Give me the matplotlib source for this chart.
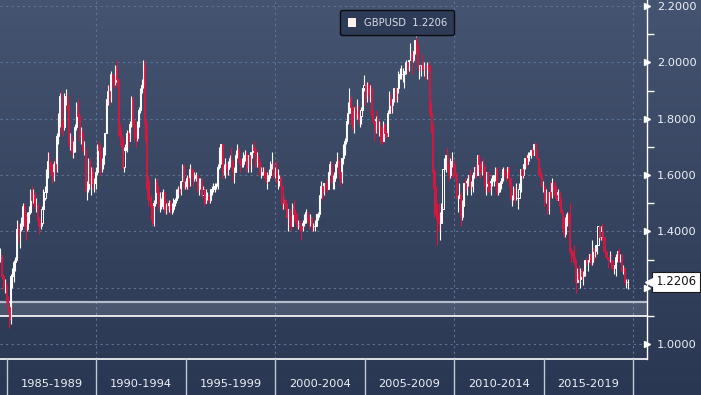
import numpy as np
import matplotlib
matplotlib.use("Agg")
import matplotlib.pyplot as plt
import matplotlib.transforms as mtransforms
from matplotlib.patches import Patch

# monthly GBPUSD candles, Aug 1984 .. Sep 2019 (open = previous close)
start_year, start_month = 1984, 8
first_open = 1.30

close = [
    1.31, 1.24, 1.21, 1.21, 1.16,                                        # 1984
    1.13, 1.09, 1.24, 1.24, 1.29, 1.30, 1.41, 1.39, 1.41, 1.43, 1.49, 1.44,  # 1985
    1.41, 1.45, 1.47, 1.54, 1.51, 1.53, 1.49, 1.49, 1.44, 1.42, 1.43, 1.48,  # 1986
    1.52, 1.54, 1.61, 1.65, 1.64, 1.61, 1.59, 1.64, 1.62, 1.74, 1.80, 1.88,  # 1987
    1.78, 1.77, 1.88, 1.88, 1.84, 1.71, 1.72, 1.68, 1.69, 1.77, 1.85, 1.81,  # 1988
    1.74, 1.75, 1.69, 1.69, 1.55, 1.55, 1.65, 1.57, 1.61, 1.57, 1.57, 1.61,  # 1989
    1.70, 1.69, 1.64, 1.64, 1.68, 1.75, 1.87, 1.90, 1.87, 1.96, 1.94, 1.93,  # 1990
    1.98, 1.94, 1.76, 1.74, 1.71, 1.63, 1.69, 1.69, 1.75, 1.72, 1.78, 1.87,  # 1991
    1.78, 1.76, 1.73, 1.78, 1.83, 1.90, 1.92, 1.99, 1.78, 1.59, 1.52, 1.51,  # 1992
    1.49, 1.43, 1.50, 1.57, 1.54, 1.49, 1.49, 1.49, 1.54, 1.48, 1.49, 1.48,  # 1993
    1.50, 1.48, 1.48, 1.51, 1.51, 1.54, 1.55, 1.54, 1.58, 1.63, 1.56, 1.56,  # 1994
    1.59, 1.58, 1.62, 1.61, 1.59, 1.59, 1.60, 1.55, 1.58, 1.58, 1.53, 1.55,  # 1995
    1.50, 1.53, 1.53, 1.51, 1.55, 1.55, 1.56, 1.56, 1.56, 1.63, 1.68, 1.71,  # 1996
    1.61, 1.63, 1.64, 1.62, 1.64, 1.66, 1.64, 1.61, 1.61, 1.67, 1.69, 1.65,  # 1997
    1.64, 1.64, 1.67, 1.67, 1.63, 1.67, 1.64, 1.68, 1.70, 1.69, 1.65, 1.66,  # 1998
    1.64, 1.60, 1.61, 1.61, 1.60, 1.58, 1.60, 1.60, 1.64, 1.64, 1.60, 1.61,  # 1999
    1.58, 1.58, 1.59, 1.56, 1.50, 1.51, 1.50, 1.45, 1.48, 1.45, 1.42, 1.49,  # 2000
    1.46, 1.45, 1.42, 1.43, 1.42, 1.41, 1.43, 1.45, 1.47, 1.45, 1.43, 1.45,  # 2001
    1.42, 1.42, 1.42, 1.46, 1.46, 1.53, 1.56, 1.54, 1.57, 1.56, 1.55, 1.61,  # 2002
    1.64, 1.58, 1.58, 1.60, 1.64, 1.65, 1.61, 1.58, 1.66, 1.69, 1.72, 1.79,  # 2003
    1.82, 1.87, 1.84, 1.77, 1.83, 1.81, 1.82, 1.80, 1.81, 1.83, 1.91, 1.92,  # 2004
    1.88, 1.92, 1.89, 1.91, 1.82, 1.79, 1.76, 1.80, 1.77, 1.77, 1.73, 1.72,  # 2005
    1.78, 1.75, 1.74, 1.82, 1.87, 1.85, 1.87, 1.91, 1.87, 1.91, 1.96, 1.96,  # 2006
    1.96, 1.96, 1.97, 2.00, 1.98, 2.01, 2.03, 2.01, 2.04, 2.08, 2.06, 1.99,  # 2007
    1.99, 1.99, 1.98, 1.99, 1.98, 1.99, 1.98, 1.82, 1.78, 1.61, 1.54, 1.46,  # 2008
    1.45, 1.43, 1.43, 1.48, 1.62, 1.65, 1.67, 1.63, 1.60, 1.65, 1.65, 1.62,  # 2009
    1.60, 1.52, 1.52, 1.53, 1.45, 1.49, 1.57, 1.55, 1.58, 1.60, 1.56, 1.56,  # 2010
    1.60, 1.63, 1.60, 1.67, 1.64, 1.61, 1.64, 1.63, 1.56, 1.61, 1.57, 1.55,  # 2011
    1.58, 1.59, 1.60, 1.62, 1.54, 1.57, 1.57, 1.59, 1.62, 1.61, 1.60, 1.63,  # 2012
    1.59, 1.52, 1.52, 1.55, 1.52, 1.52, 1.52, 1.55, 1.62, 1.60, 1.64, 1.66,  # 2013
    1.64, 1.67, 1.67, 1.69, 1.67, 1.71, 1.69, 1.66, 1.62, 1.60, 1.56, 1.56,  # 2014
    1.51, 1.54, 1.48, 1.54, 1.53, 1.57, 1.56, 1.53, 1.51, 1.54, 1.51, 1.47,  # 2015
    1.43, 1.39, 1.44, 1.46, 1.45, 1.33, 1.32, 1.31, 1.30, 1.22, 1.25, 1.23,  # 2016
    1.26, 1.24, 1.25, 1.30, 1.29, 1.30, 1.32, 1.29, 1.34, 1.33, 1.35, 1.35,  # 2017
    1.42, 1.38, 1.40, 1.38, 1.33, 1.32, 1.31, 1.30, 1.30, 1.28, 1.27, 1.28,  # 2018
    1.31, 1.33, 1.30, 1.30, 1.26, 1.27, 1.22, 1.22, 1.2206,              # 2019
]

high = [
    1.34, 1.32, 1.25, 1.23, 1.22,
    1.17, 1.13, 1.25, 1.27, 1.30, 1.31, 1.44, 1.43, 1.43, 1.45, 1.50, 1.50,
    1.46, 1.47, 1.49, 1.55, 1.56, 1.55, 1.54, 1.52, 1.50, 1.45, 1.45, 1.49,
    1.55, 1.56, 1.62, 1.68, 1.68, 1.65, 1.64, 1.65, 1.66, 1.75, 1.82, 1.89,
    1.90, 1.79, 1.89, 1.905, 1.89, 1.85, 1.75, 1.74, 1.72, 1.78, 1.86, 1.87,
    1.82, 1.77, 1.76, 1.72, 1.70, 1.58, 1.66, 1.66, 1.63, 1.63, 1.59, 1.63,
    1.71, 1.72, 1.71, 1.66, 1.70, 1.75, 1.87, 1.92, 1.92, 1.97, 1.96, 1.95,
    1.99, 2.007, 1.94, 1.78, 1.76, 1.73, 1.70, 1.71, 1.76, 1.76, 1.79, 1.88,
    1.88, 1.80, 1.77, 1.79, 1.84, 1.91, 1.94, 2.01, 2.01, 1.80, 1.60, 1.58,
    1.53, 1.50, 1.51, 1.59, 1.59, 1.56, 1.54, 1.52, 1.55, 1.54, 1.50, 1.51,
    1.51, 1.51, 1.50, 1.52, 1.52, 1.55, 1.56, 1.56, 1.58, 1.64, 1.64, 1.58,
    1.60, 1.60, 1.64, 1.63, 1.62, 1.61, 1.61, 1.60, 1.59, 1.59, 1.59, 1.56,
    1.55, 1.55, 1.54, 1.53, 1.55, 1.56, 1.57, 1.57, 1.57, 1.64, 1.70, 1.71,
    1.71, 1.64, 1.66, 1.64, 1.65, 1.67, 1.70, 1.65, 1.63, 1.69, 1.71, 1.70,
    1.66, 1.66, 1.68, 1.69, 1.68, 1.67, 1.67, 1.68, 1.71, 1.72, 1.70, 1.68,
    1.67, 1.65, 1.63, 1.63, 1.63, 1.61, 1.61, 1.62, 1.65, 1.68, 1.65, 1.63,
    1.65, 1.62, 1.60, 1.60, 1.56, 1.53, 1.52, 1.51, 1.48, 1.48, 1.45, 1.50,
    1.51, 1.48, 1.47, 1.44, 1.44, 1.42, 1.44, 1.46, 1.48, 1.47, 1.45, 1.46,
    1.45, 1.43, 1.44, 1.46, 1.47, 1.53, 1.58, 1.56, 1.57, 1.57, 1.59, 1.61,
    1.65, 1.65, 1.60, 1.61, 1.65, 1.68, 1.66, 1.61, 1.66, 1.71, 1.73, 1.79,
    1.86, 1.91, 1.88, 1.84, 1.84, 1.85, 1.87, 1.85, 1.82, 1.84, 1.91, 1.955,
    1.93, 1.93, 1.93, 1.92, 1.92, 1.83, 1.79, 1.81, 1.83, 1.79, 1.78, 1.77,
    1.79, 1.78, 1.76, 1.83, 1.90, 1.89, 1.87, 1.91, 1.91, 1.91, 1.97, 1.98,
    1.99, 1.98, 1.97, 2.01, 2.00, 2.01, 2.07, 2.04, 2.04, 2.08, 2.09, 2.06,
    1.99, 1.99, 2.03, 2.00, 1.99, 2.00, 2.00, 1.99, 1.86, 1.78, 1.62, 1.56,
    1.50, 1.50, 1.47, 1.50, 1.62, 1.66, 1.67, 1.70, 1.64, 1.66, 1.68, 1.66,
    1.64, 1.61, 1.53, 1.57, 1.54, 1.51, 1.57, 1.59, 1.59, 1.60, 1.62, 1.58,
    1.61, 1.63, 1.64, 1.67, 1.67, 1.65, 1.65, 1.66, 1.63, 1.61, 1.61, 1.58,
    1.59, 1.60, 1.60, 1.63, 1.63, 1.57, 1.58, 1.59, 1.63, 1.62, 1.61, 1.63,
    1.63, 1.59, 1.53, 1.56, 1.56, 1.57, 1.54, 1.57, 1.62, 1.62, 1.64, 1.66,
    1.67, 1.68, 1.68, 1.69, 1.70, 1.71, 1.717, 1.69, 1.66, 1.63, 1.61, 1.58,
    1.56, 1.55, 1.54, 1.54, 1.58, 1.59, 1.57, 1.58, 1.56, 1.55, 1.54, 1.52,
    1.48, 1.45, 1.45, 1.47, 1.47, 1.50, 1.34, 1.33, 1.35, 1.30, 1.27, 1.28,
    1.27, 1.27, 1.26, 1.30, 1.31, 1.30, 1.32, 1.32, 1.37, 1.34, 1.35, 1.36,
    1.42, 1.42, 1.42, 1.43, 1.38, 1.34, 1.33, 1.31, 1.33, 1.32, 1.30, 1.28,
    1.32, 1.33, 1.34, 1.32, 1.32, 1.28, 1.27, 1.23, 1.23,
]

low = [
    1.29, 1.23, 1.19, 1.18, 1.15,
    1.11, 1.057, 1.07, 1.20, 1.22, 1.26, 1.30, 1.36, 1.34, 1.40, 1.42, 1.42,
    1.37, 1.40, 1.43, 1.46, 1.49, 1.50, 1.48, 1.47, 1.42, 1.39, 1.41, 1.42,
    1.47, 1.51, 1.53, 1.59, 1.62, 1.60, 1.57, 1.58, 1.60, 1.61, 1.71, 1.77,
    1.75, 1.74, 1.76, 1.85, 1.83, 1.70, 1.69, 1.67, 1.66, 1.68, 1.76, 1.79,
    1.72, 1.71, 1.68, 1.67, 1.54, 1.51, 1.54, 1.56, 1.53, 1.55, 1.54, 1.55,
    1.60, 1.67, 1.60, 1.61, 1.62, 1.67, 1.75, 1.85, 1.85, 1.86, 1.91, 1.91,
    1.92, 1.92, 1.74, 1.71, 1.70, 1.62, 1.61, 1.66, 1.68, 1.70, 1.72, 1.77,
    1.77, 1.72, 1.70, 1.72, 1.77, 1.82, 1.89, 1.91, 1.72, 1.55, 1.49, 1.51,
    1.44, 1.42, 1.42, 1.49, 1.53, 1.48, 1.47, 1.48, 1.48, 1.47, 1.46, 1.46,
    1.47, 1.46, 1.46, 1.47, 1.49, 1.50, 1.52, 1.53, 1.53, 1.58, 1.55, 1.55,
    1.55, 1.55, 1.56, 1.60, 1.56, 1.58, 1.58, 1.54, 1.53, 1.55, 1.52, 1.53,
    1.49, 1.50, 1.51, 1.50, 1.50, 1.53, 1.54, 1.54, 1.55, 1.55, 1.62, 1.64,
    1.59, 1.60, 1.59, 1.60, 1.60, 1.63, 1.63, 1.58, 1.57, 1.61, 1.66, 1.64,
    1.61, 1.63, 1.63, 1.65, 1.61, 1.61, 1.62, 1.61, 1.66, 1.67, 1.63, 1.63,
    1.63, 1.60, 1.59, 1.60, 1.59, 1.57, 1.55, 1.58, 1.59, 1.62, 1.59, 1.59,
    1.57, 1.55, 1.56, 1.55, 1.48, 1.48, 1.48, 1.45, 1.40, 1.42, 1.40, 1.42,
    1.44, 1.43, 1.41, 1.41, 1.40, 1.37, 1.40, 1.42, 1.43, 1.44, 1.41, 1.42,
    1.40, 1.40, 1.40, 1.42, 1.44, 1.45, 1.52, 1.51, 1.53, 1.54, 1.54, 1.55,
    1.60, 1.57, 1.55, 1.55, 1.59, 1.63, 1.59, 1.56, 1.57, 1.64, 1.67, 1.71,
    1.78, 1.82, 1.78, 1.76, 1.75, 1.80, 1.80, 1.78, 1.77, 1.78, 1.82, 1.90,
    1.85, 1.86, 1.87, 1.86, 1.81, 1.78, 1.72, 1.75, 1.75, 1.74, 1.71, 1.71,
    1.72, 1.73, 1.73, 1.74, 1.82, 1.82, 1.82, 1.86, 1.86, 1.86, 1.89, 1.94,
    1.94, 1.93, 1.91, 1.96, 1.96, 1.97, 2.01, 1.96, 2.00, 2.03, 2.03, 1.97,
    1.94, 1.95, 1.97, 1.95, 1.94, 1.94, 1.97, 1.81, 1.75, 1.55, 1.45, 1.44,
    1.35, 1.40, 1.37, 1.44, 1.48, 1.61, 1.61, 1.62, 1.58, 1.59, 1.63, 1.59,
    1.59, 1.52, 1.47, 1.52, 1.42, 1.44, 1.49, 1.54, 1.53, 1.56, 1.55, 1.53,
    1.54, 1.59, 1.59, 1.60, 1.61, 1.59, 1.60, 1.61, 1.54, 1.53, 1.54, 1.54,
    1.53, 1.56, 1.56, 1.58, 1.53, 1.53, 1.54, 1.55, 1.58, 1.59, 1.58, 1.59,
    1.56, 1.51, 1.49, 1.51, 1.50, 1.51, 1.48, 1.52, 1.54, 1.59, 1.59, 1.62,
    1.63, 1.64, 1.65, 1.66, 1.67, 1.67, 1.69, 1.66, 1.60, 1.59, 1.56, 1.54,
    1.49, 1.50, 1.46, 1.46, 1.52, 1.52, 1.54, 1.52, 1.51, 1.51, 1.49, 1.47,
    1.41, 1.38, 1.38, 1.42, 1.43, 1.32, 1.29, 1.29, 1.28, 1.18, 1.22, 1.22,
    1.20, 1.23, 1.21, 1.24, 1.28, 1.26, 1.29, 1.28, 1.28, 1.30, 1.31, 1.32,
    1.35, 1.37, 1.37, 1.37, 1.33, 1.31, 1.30, 1.27, 1.29, 1.27, 1.26, 1.25,
    1.24, 1.29, 1.29, 1.29, 1.26, 1.25, 1.21, 1.20, 1.196,
]

ticker = "GBPUSD"
band_low, band_high = 1.10, 1.15
period_starts = [1985, 1990, 1995, 2000, 2005, 2010, 2015, 2020]
y_major = [1.0, 1.2, 1.4, 1.6, 1.8, 2.0, 2.2]
y_minor = [1.1, 1.3, 1.5, 1.7, 1.9, 2.1]

RED_FACE = "#a5234b"
RED_EDGE = "#d9173f"
GRID = "#5f7597"

close = np.array(close)
high = np.array(high)
low = np.array(low)
opens = np.concatenate([[first_open], close[:-1]])
n = len(close)
month_index = np.arange(n) + (start_month - 1)
x = start_year + (month_index + 0.5) / 12.0
up = close >= opens

fig = plt.figure(figsize=(7.01, 3.95), dpi=100)

# gradient background over the whole figure
bg = fig.add_axes([0, 0, 1, 1], zorder=-10)
top_c = np.array([0x45, 0x54, 0x70]) / 255
bot_c = np.array([0x2a, 0x37, 0x53]) / 255
t = np.linspace(0, 1, 256)[:, None]
grad = (top_c[None, :] * (1 - t) + bot_c[None, :] * t)[:, None, :]
bg.imshow(grad, aspect="auto", extent=[0, 1, 0, 1])
bg.axis("off")

ax = fig.add_axes([0, 36 / 395, 647 / 701, 359 / 395])
ax.set_facecolor("none")
ax.set_xlim(1984.61, 2020.78)
ax.set_ylim(0.9468, 2.2213)

# grid
for v in y_major:
    ax.axhline(v, color=GRID, lw=0.8, dashes=(2, 3), zorder=0)
for yr in period_starts[1::2]:
    ax.axvline(yr, color=GRID, lw=0.8, dashes=(2, 3), zorder=0)

# support band
ax.axhspan(band_low, band_high, color="white", alpha=0.13, lw=0, zorder=1)
ax.axhline(band_high, color="#b4bcc9", lw=1.6, zorder=1)
ax.axhline(band_low, color="white", lw=1.2, zorder=1)

# candles
w = 0.7 / 12
ax.vlines(x[up], low[up], high[up], color="white", lw=0.8, zorder=3)
ax.vlines(x[~up], low[~up], high[~up], color=RED_EDGE, lw=0.8, zorder=3)
ax.bar(x[up], close[up] - opens[up], bottom=opens[up], width=w,
       facecolor="#34425f", edgecolor="white", lw=0.7, zorder=4)
ax.bar(x[~up], opens[~up] - close[~up], bottom=close[~up], width=w,
       facecolor=RED_FACE, edgecolor=RED_EDGE, lw=0.6, zorder=4)

# spines and right axis
for s in ["top", "left", "bottom"]:
    ax.spines[s].set_visible(False)
ax.spines["right"].set_color("white")
ax.spines["right"].set_linewidth(1.0)
ax.set_xticks([])
ax.yaxis.tick_right()
ax.set_yticks(y_major)
ax.set_yticks(y_minor, minor=True)
ax.set_yticklabels([f"{v:.4f}" for v in y_major])
ax.tick_params(axis="y", which="major", length=0, pad=7,
               labelsize=8.2, labelcolor="#eef0f4")
ax.tick_params(axis="y", which="minor", length=5, width=1, color="white")
ax.plot([1.0] * len(y_major), y_major, ls="none", marker=">", ms=5,
        color="white", transform=ax.get_yaxis_transform(), clip_on=False)

# bottom axis: baseline, separators, period labels
xt = ax.get_xaxis_transform()
ax.plot([0, 1], [0, 0], color="white", lw=1.2, transform=ax.transAxes,
        clip_on=False)
for yr in period_starts:
    ax.plot([yr, yr], [0, -36 / 359], color="#c3c9d3", lw=1.0,
            transform=xt, clip_on=False)
for a, b in zip(period_starts[:-1], period_starts[1:]):
    ax.text((a + b) / 2, -25 / 359, f"{a}-{b - 1}", transform=xt,
            ha="center", va="center", fontsize=8.2, color="#eef0f4")

# last price tag (covers the 1.2000 label, as on the terminal)
last = close[-1]
tip = mtransforms.offset_copy(ax.get_yaxis_transform(), fig=fig, x=4, y=0,
                              units="dots")
ax.annotate(f"{last:.4f}", xy=(1.0, last), xycoords=ax.get_yaxis_transform(),
            xytext=(6, 0), textcoords="offset points", ha="left", va="center",
            fontsize=8.5, color="#141414", zorder=20, annotation_clip=False,
            bbox=dict(boxstyle="square,pad=0.28", fc="white", ec="#1a1a1a",
                      lw=0.8))
ax.plot([1.0], [last], ls="none", marker="<", ms=8, color="white",
        transform=tip, clip_on=False, zorder=21)

# legend box at the top
peak = int(np.argmax(high))
leg = ax.legend([Patch(facecolor="#fdf0ea", edgecolor="none")],
                [f"{ticker}  {last:.4f}"], loc="center",
                bbox_to_anchor=(0.614, 0.936), fontsize=7.2, labelcolor="#d9dde5",
                facecolor="#2e3b57", edgecolor="#0c0c0c", framealpha=1,
                fancybox=True, handlelength=0.8, handleheight=0.9,
                handletextpad=0.8, borderpad=0.75)
leg.get_frame().set_linewidth(1.0)
leg.set_zorder(30)
ax.plot([x[peak], x[peak]], [high[peak], 2.13], color="#9aa3b3", lw=0.7,
        zorder=5)

fig.savefig("out.png", dpi=100)
